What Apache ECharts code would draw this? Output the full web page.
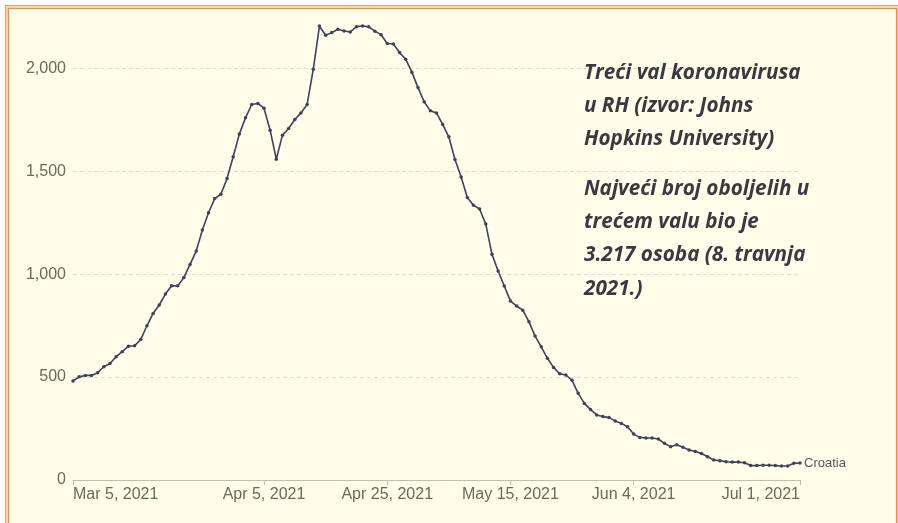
<!DOCTYPE html>
<html>
<head>
<meta charset="utf-8">
<script src="https://cdn.jsdelivr.net/npm/echarts@6/dist/echarts.min.js"></script>
<style>
html,body{margin:0;padding:0;background:#ffffff;}
#chart{width:898px;height:523px;}
</style>
</head>
<body>
<div id="chart"></div>
<script>
// ---- data ----
const startDate = [2021, 2, 5]; // 5 March 2021 (month index 2)
const dayCount = 119;            // Mar 5 .. Jul 1, 2021
const tickLabels = ['Mar 5, 2021', 'Apr 5, 2021', 'Apr 25, 2021', 'May 15, 2021', 'Jun 4, 2021', 'Jul 1, 2021'];
const yTicks = [0, 500, 1000, 1500, 2000];
const seriesName = 'Croatia';
const croatia = [
  481, 501, 508, 508, 521, 550, 566, 599, 623, 650,
  652, 683, 749, 809, 850, 903, 943, 943, 984, 1047,
  1112, 1214, 1298, 1367, 1388, 1464, 1570, 1680, 1759, 1824,
  1829, 1806, 1699, 1558, 1675, 1707, 1751, 1783, 1824, 1995,
  2205, 2160, 2173, 2189, 2181, 2176, 2202, 2205, 2201, 2180,
  2163, 2120, 2118, 2076, 2044, 1981, 1906, 1837, 1793, 1783,
  1727, 1667, 1557, 1472, 1372, 1335, 1316, 1243, 1097, 1015,
  942, 870, 845, 825, 769, 699, 647, 591, 547, 516,
  510, 484, 421, 372, 342, 316, 308, 303, 287, 275,
  259, 223, 207, 204, 204, 199, 178, 162, 171, 159,
  146, 138, 129, 113, 97, 94, 89, 87, 87, 84,
  70, 70, 72, 72, 70, 68, 68, 81, 82
];
const notePara1 = ['Treći val koronavirusa', 'u RH (izvor: Johns', 'Hopkins University)'];
const notePara2 = ['Najveći broj oboljelih u', 'trećem valu bio je', '3.217 osoba (8. travnja', '2021.)'];

// ---- categories (daily dates) ----
const monthNames = ['Jan','Feb','Mar','Apr','May','Jun','Jul','Aug','Sep','Oct','Nov','Dec'];
const categories = [];
for (let i = 0; i < dayCount; i++) {
  const d = new Date(Date.UTC(startDate[0], startDate[1], startDate[2] + i));
  categories.push(monthNames[d.getUTCMonth()] + ' ' + d.getUTCDate() + ', ' + d.getUTCFullYear());
}
const showTick = (idx, val) => tickLabels.indexOf(categories[idx]) >= 0;

const labelColor = '#6f665c';
const axisFont = "'Liberation Sans', Arial, sans-serif";
const noteFont = "'Open Sans', Lato, sans-serif";

const graphics = [
  { type: 'rect', silent: true, z: -10, shape: { x: 5.5, y: 5.5, width: 900, height: 530 },
    style: { fill: '#fcd6b2', stroke: '#f0a263', lineWidth: 1.2 } },
  { type: 'rect', silent: true, z: -9, shape: { x: 8.5, y: 8.5, width: 888, height: 530 },
    style: { fill: '#fffeeb', stroke: '#f08a4a', lineWidth: 1.2 } },
  { type: 'line', silent: true, z: -8, shape: { x1: 897.5, y1: 8, x2: 897.5, y2: 523 },
    style: { stroke: '#f6c49a', lineWidth: 1 } }
];
notePara1.forEach((t, i) => graphics.push({
  type: 'text', z: 100, silent: true,
  style: { text: t, x: 584, y: 73 + i * 33.3, fill: '#3a3a3e', fontFamily: noteFont,
           fontSize: 20.7, fontWeight: 'bold', fontStyle: 'italic', verticalAlign: 'middle' }
}));
notePara2.forEach((t, i) => graphics.push({
  type: 'text', z: 100, silent: true,
  style: { text: t, x: 584, y: 189 + i * 33.3, fill: '#3a3a3e', fontFamily: noteFont,
           fontSize: 20.7, fontWeight: 'bold', fontStyle: 'italic', verticalAlign: 'middle' }
}));

const chart = echarts.init(document.getElementById('chart'), null, { renderer: 'canvas' });
chart.setOption({
  backgroundColor: '#ffffff',
  animation: false,
  graphic: graphics,
  grid: { left: 73, right: 98, top: 25, bottom: 43, containLabel: false },
  xAxis: {
    type: 'category',
    data: categories,
    boundaryGap: false,
    axisLine: { show: true, lineStyle: { color: '#c4bcac', width: 1 } },
    axisTick: { show: true, interval: showTick, length: 5, lineStyle: { color: '#c4bcac' } },
    axisLabel: {
      interval: showTick, color: labelColor, fontSize: 16, fontFamily: axisFont, margin: 7,
      alignMinLabel: 'left', alignMaxLabel: 'right'
    },
    splitLine: { show: false }
  },
  yAxis: {
    type: 'value',
    min: 0, max: 2210, interval: 500,
    axisLine: { show: false },
    axisTick: { show: false },
    axisLabel: {
      color: labelColor, fontSize: 16, fontFamily: axisFont, margin: 7,
      formatter: v => yTicks.indexOf(v) >= 0 ? v.toLocaleString('en-US') : ''
    },
    splitLine: { show: true, showMaxLine: false, lineStyle: { color: '#f1d5cb', type: [4, 3], width: 1 } }
  },
  series: [{
    name: seriesName,
    type: 'line',
    data: croatia,
    symbol: 'circle',
    symbolSize: 3.5,
    showSymbol: true,
    lineStyle: { color: '#3d4454', width: 1.6 },
    itemStyle: { color: '#3d4454' },
    endLabel: { show: true, formatter: seriesName, color: '#555555', fontSize: 13, fontFamily: axisFont, distance: 4 },
    emphasis: { disabled: true }
  }]
});
</script>
</body>
</html>
